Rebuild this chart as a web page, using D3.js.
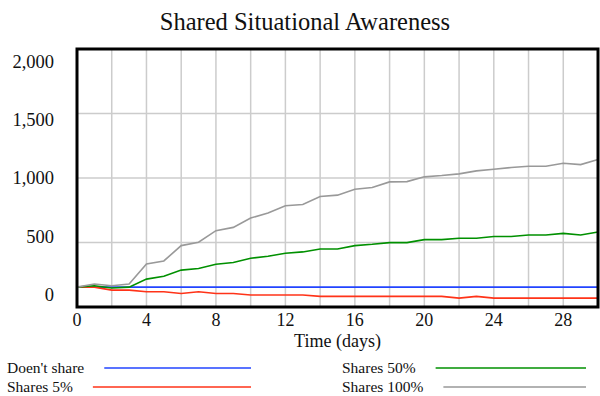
<!DOCTYPE html>
<html>
<head>
<meta charset="utf-8">
<script src="https://cdn.jsdelivr.net/npm/d3@7"></script>
<style>
  body { margin: 0; background: #fff; }
  text { font-family: "Liberation Serif", "Times New Roman", serif; fill: #111; }
</style>
</head>
<body>
<div id="chart"></div>
<script>
// data
const days = d3.range(0, 31)
const dontShare = days.map(() => 154)
const shares5 = [154, 154, 131, 131, 118, 118, 105, 118, 105, 105, 93, 93, 93, 93, 82, 82, 82, 82, 82, 82,
  82, 82, 69, 82, 69, 69, 69, 69, 69, 69, 69]
const shares50 = [154, 165, 147, 154, 216, 239, 286, 298, 332, 345, 378, 394, 417, 427, 450, 450, 476, 486, 499, 499,
  522, 522, 533, 533, 546, 546, 558, 558, 571, 558, 581]
const shares100 = [154, 178, 165, 178, 334, 357, 476, 502, 592, 617, 690, 728, 785, 795, 857, 867, 913, 926, 970, 972,
  1009, 1019, 1032, 1055, 1068, 1081, 1091, 1091, 1114, 1104, 1143]
const seriesNames = ["Doen't share", "Shares 5%", "Shares 50%", "Shares 100%"]
const seriesColors = ["#2244ff", "#ff3318", "#009000", "#999999"]
const yTicks = [0, 500, 1000, 1500, 2000]
const xTicks = [0, 4, 8, 12, 16, 20, 24, 28]
const xGrid = d3.range(0, 31, 2)

const allSeries = [dontShare, shares5, shares50, shares100]

const width = 600
const height = 396
const dims = { left: 77, right: 598, top: 49, bottom: 307 }

const svg = d3.select("#chart").append("svg")
  .attr("width", width)
  .attr("height", height)

const x = d3.scaleLinear().domain([0, 30]).range([dims.left, dims.right])
const y = d3.scaleLinear().domain([0, 2000]).range([dims.bottom, dims.top])

// title
svg.append("text")
  .attr("x", 305)
  .attr("y", 30)
  .attr("text-anchor", "middle")
  .style("font-size", "24.5px")
  .text("Shared Situational Awareness")

// grid
const grid = svg.append("g")
  .attr("stroke", "#cccccc")
  .attr("stroke-width", 1.5)
xGrid.forEach(d => {
  grid.append("line")
    .attr("x1", x(d)).attr("x2", x(d))
    .attr("y1", dims.top).attr("y2", dims.bottom)
})
yTicks.forEach(d => {
  grid.append("line")
    .attr("x1", dims.left).attr("x2", dims.right)
    .attr("y1", y(d)).attr("y2", y(d))
})

// y labels (vensim squeezes them a bit toward the middle)
const yMid = y(1000)
yTicks.forEach(d => {
  svg.append("text")
    .attr("x", 54)
    .attr("y", yMid + (y(d) - yMid) * 0.905)
    .attr("dy", "0.35em")
    .attr("text-anchor", "end")
    .style("font-size", "18.5px")
    .text(d3.format(",")(d))
})

// x labels
xTicks.forEach(d => {
  svg.append("text")
    .attr("x", x(d))
    .attr("y", 326)
    .attr("text-anchor", "middle")
    .style("font-size", "18px")
    .text(d)
})

svg.append("text")
  .attr("x", (dims.left + dims.right) / 2)
  .attr("y", 347)
  .attr("text-anchor", "middle")
  .style("font-size", "18px")
  .text("Time (days)")

// lines
const line = d3.line()
  .x((d, i) => x(days[i]))
  .y(d => y(d))

allSeries.forEach((s, i) => {
  svg.append("path")
    .attr("fill", "none")
    .attr("stroke", seriesColors[i])
    .attr("stroke-width", 1.6)
    .attr("d", line(s))
})

// frame
svg.append("rect")
  .attr("x", dims.left)
  .attr("y", dims.top)
  .attr("width", dims.right - dims.left)
  .attr("height", dims.bottom - dims.top)
  .attr("fill", "none")
  .attr("stroke", "#000")
  .attr("stroke-width", 3)

// legend
const legendPos = [
  { tx: 7, lineEnd: 251, y: 368 },
  { tx: 7, lineEnd: 251, y: 387 },
  { tx: 342, lineEnd: 586, y: 368 },
  { tx: 342, lineEnd: 586, y: 387 },
]
seriesNames.forEach((name, i) => {
  const p = legendPos[i]
  const t = svg.append("text")
    .attr("x", p.tx)
    .attr("y", p.y + 5)
    .style("font-size", "15.5px")
    .text(name)
  const tw = t.node().getComputedTextLength()
  svg.append("line")
    .attr("x1", p.tx + tw + 20)
    .attr("x2", p.lineEnd)
    .attr("y1", p.y)
    .attr("y2", p.y)
    .attr("stroke", seriesColors[i])
    .attr("stroke-width", 1.6)
})
</script>
</body>
</html>
